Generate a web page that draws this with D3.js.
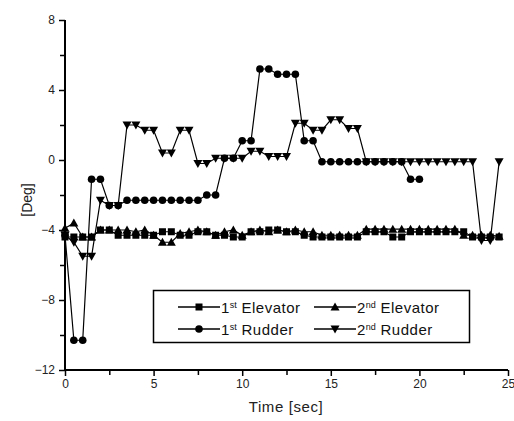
<!DOCTYPE html>
<html>
<head>
<meta charset="utf-8">
<script src="https://cdn.jsdelivr.net/npm/d3@7"></script>
<style>
  body { margin: 0; background: #fff; }
  svg { display: block; font-family: "Liberation Sans", Arial, sans-serif; }
</style>
</head>
<body>
<div id="chart"></div>
<script>
const width = 514;
const height = 421;

// time base, 0.5 s steps
const time = d3.range(0, 25, 0.5);

const elevator1 = [-4.4, -4.4, -4.4, -4.4, -4.0, -4.0, -4.3, -4.3, -4.3, -4.3,
  -4.3, -4.1, -4.1, -4.3, -4.3, -4.1, -4.1, -4.3, -4.3, -4.4,
  -4.4, -4.1, -4.1, -4.0, -4.0, -4.1, -4.1, -4.3, -4.4, -4.4,
  -4.4, -4.4, -4.4, -4.4, -4.1, -4.1, -4.1, -4.4, -4.4, -4.1,
  -4.1, -4.1, -4.1, -4.1, -4.1, -4.1, -4.4, -4.4, -4.4, -4.4];

const elevator2 = [-3.9, -3.6, -4.4, -4.4, -4.0, -4.0, -4.0, -4.0, -4.1, -4.0,
  -4.3, -4.7, -4.7, -4.2, -4.1, -4.0, -4.1, -4.3, -4.1, -4.0,
  -4.3, -4.1, -4.0, -4.1, -4.0, -4.1, -4.0, -4.1, -4.1, -4.3,
  -4.3, -4.3, -4.3, -4.3, -3.95, -3.95, -3.95, -3.95, -3.95, -3.95,
  -3.95, -3.95, -3.95, -3.95, -3.95, -4.3, -4.3, -4.3, -4.3, -4.35];

const rudder1 = [-4.3, -10.3, -10.3, -1.1, -1.1, -2.6, -2.6, -2.3, -2.3, -2.3,
  -2.3, -2.3, -2.3, -2.3, -2.3, -2.3, -2.0, -2.0, 0.1, 0.1,
  1.1, 1.1, 5.2, 5.2, 4.9, 4.9, 4.9, 1.1, 1.1, -0.1,
  -0.1, -0.1, -0.1, -0.1, -0.1, -0.1, -0.1, -0.1, -0.1, -1.1,
  -1.1];

const rudder2 = [-4.3, -4.7, -5.5, -5.5, -2.3, -2.6, -2.6, 2.0, 2.0, 1.7,
  1.7, 0.4, 0.4, 1.7, 1.7, -0.2, -0.2, 0.1, 0.1, 0.1,
  0.1, 0.5, 0.5, 0.2, 0.2, 0.2, 2.1, 2.1, 1.7, 1.7,
  2.3, 2.3, 1.8, 1.8, -0.1, -0.1, -0.1, -0.1, -0.1, -0.1,
  -0.1, -0.1, -0.1, -0.1, -0.1, -0.1, -0.1, -4.6, -4.6, -0.1];

const xMajor = [0, 5, 10, 15, 20, 25];
const xMinor = [2.5, 7.5, 12.5, 17.5, 22.5];
const yMajor = [-12, -8, -4, 0, 4, 8];
const yMinor = [-10, -6, -2, 2, 6];

const series = [
  { name: "Elevator", ord: "st", values: elevator1, symbol: "square" },
  { name: "Elevator", ord: "nd", values: elevator2, symbol: "up" },
  { name: "Rudder", ord: "st", values: rudder1, symbol: "circle" },
  { name: "Rudder", ord: "nd", values: rudder2, symbol: "down" }
];

const x = d3.scaleLinear().domain([0, 25]).range([65, 508]);
const y = d3.scaleLinear().domain([-12, 8]).range([370, 20]);

const svg = d3.select("#chart").append("svg")
  .attr("width", width).attr("height", height);

function drawMarker(g, kind) {
  if (kind === "square") {
    g.append("rect").attr("x", -3.5).attr("y", -3.5).attr("width", 7).attr("height", 7);
  } else if (kind === "circle") {
    g.append("circle").attr("r", 3.8);
  } else if (kind === "up") {
    g.append("path").attr("d", "M0,-4.5L4.5,3.5L-4.5,3.5Z");
  } else {
    g.append("path").attr("d", "M0,4.5L4.5,-3.5L-4.5,-3.5Z");
  }
}

const line = d3.line().x(d => x(d[0])).y(d => y(d[1]));

series.forEach(s => {
  const pts = s.values.map((v, i) => [time[i], v]);
  svg.append("path")
    .attr("d", line(pts))
    .attr("fill", "none")
    .attr("stroke", "#000")
    .attr("stroke-width", 1.2);
  pts.forEach(p => {
    const g = svg.append("g")
      .attr("transform", `translate(${x(p[0])},${y(p[1])})`)
      .attr("fill", "#000");
    drawMarker(g, s.symbol);
  });
});

// axes
const xAxisG = svg.append("g").attr("transform", "translate(0,370)");
xAxisG.call(d3.axisBottom(x).tickValues(xMajor).tickSize(6).tickPadding(3).tickFormat(d3.format("d")));
xAxisG.append("g").call(d3.axisBottom(x).tickValues(xMinor).tickSize(5).tickFormat(""));

const yAxisG = svg.append("g").attr("transform", "translate(65,0)");
yAxisG.call(d3.axisLeft(y).tickValues(yMajor).tickSize(6).tickPadding(4).tickFormat(d3.format("d")));
yAxisG.append("g").call(d3.axisLeft(y).tickValues(yMinor).tickSize(5).tickFormat(""));

svg.selectAll(".domain").attr("stroke", "#000").attr("stroke-width", 2);
svg.selectAll(".tick line").attr("stroke", "#000").attr("stroke-width", 1.5);
svg.selectAll(".tick text")
  .attr("fill", "#222")
  .style("font-size", "12px")
  .style("font-family", "'Liberation Sans', Arial, sans-serif");
yAxisG.selectAll(".domain").attr("d", `M0,${y(-12)}V${y(8)}`);
xAxisG.selectAll(".domain").attr("d", `M${x(0)},0H${x(25)}`);

svg.append("text")
  .attr("x", 286).attr("y", 412)
  .attr("text-anchor", "middle")
  .attr("font-size", 15)
  .attr("letter-spacing", 0.6)
  .attr("fill", "#222")
  .text("Time [sec]");

svg.append("text")
  .attr("transform", "translate(32,200) rotate(-90)")
  .attr("text-anchor", "middle")
  .attr("font-size", 14)
  .attr("fill", "#222")
  .text("[Deg]");

// legend
const legend = svg.append("g");
legend.append("rect")
  .attr("x", 153.5).attr("y", 290.5)
  .attr("width", 316).attr("height", 52)
  .attr("fill", "#fff")
  .attr("stroke", "#000")
  .attr("stroke-width", 1.5);

const legendPos = [[178, 307], [314, 307], [178, 329], [314, 329]];
series.forEach((s, i) => {
  const [lx, ly] = legendPos[i];
  const g = legend.append("g").attr("transform", `translate(${lx},${ly})`);
  g.append("line").attr("x1", 0).attr("x2", 42).attr("y1", 0).attr("y2", 0)
    .attr("stroke", "#000").attr("stroke-width", 1.5);
  const m = g.append("g").attr("transform", "translate(21,0)").attr("fill", "#000");
  drawMarker(m, s.symbol);
  const t = g.append("text").attr("x", 43).attr("y", 5.5)
    .attr("font-size", 15).attr("letter-spacing", 0.5).attr("fill", "#111");
  t.append("tspan").text(s.ord === "st" ? "1" : "2");
  t.append("tspan").attr("dy", -5).attr("font-size", 9).attr("letter-spacing", 0).text(s.ord);
  t.append("tspan").attr("dy", 5).text(" " + s.name);
});
</script>
</body>
</html>
